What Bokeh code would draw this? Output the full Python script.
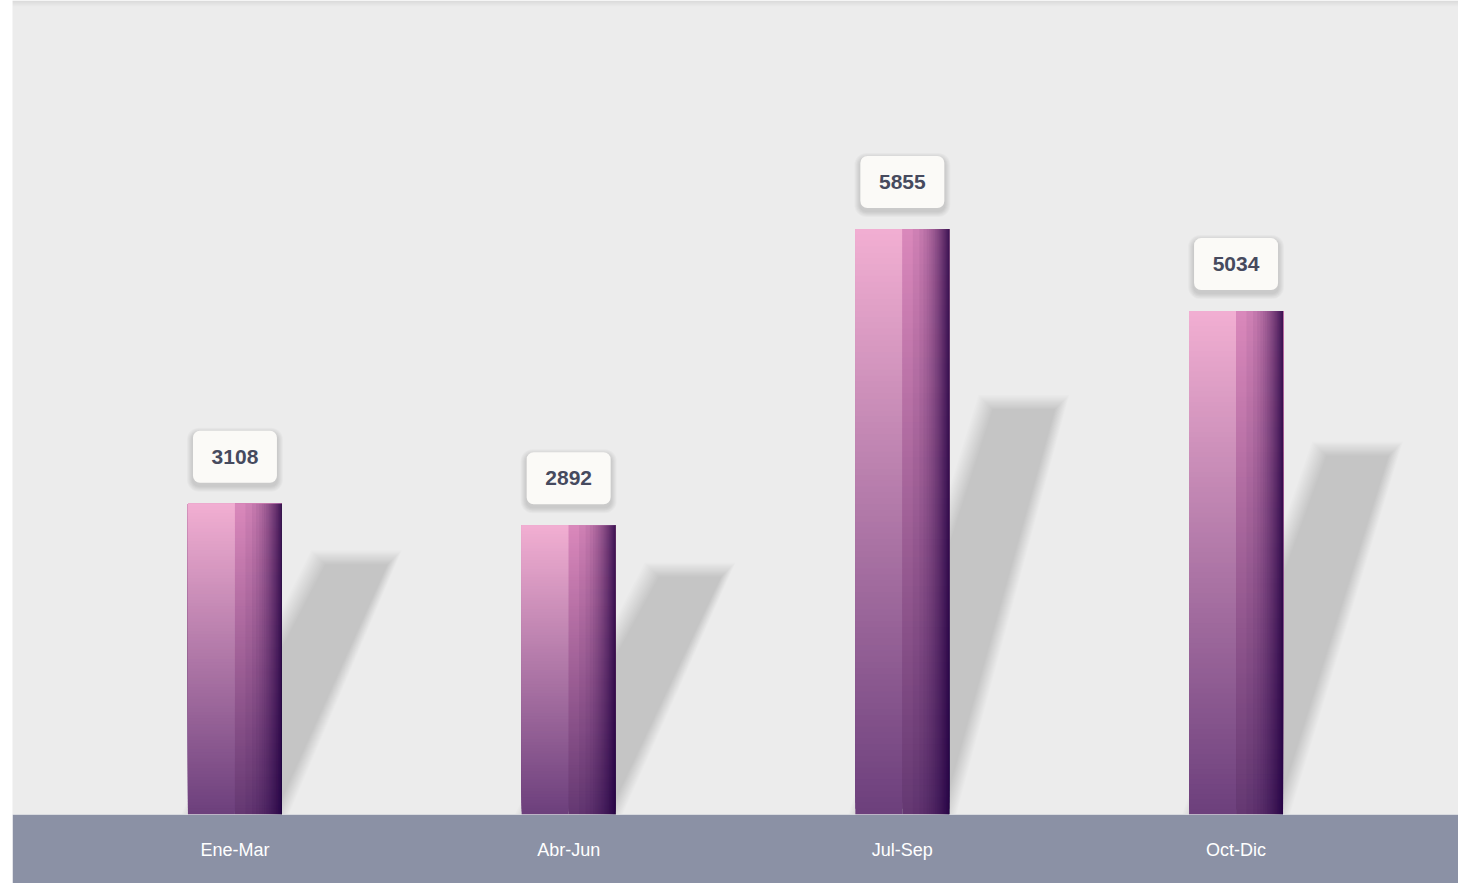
import numpy as np
from bokeh.plotting import figure
from bokeh.models import FactorRange, Range1d, BoxAnnotation, ColumnDataSource
from bokeh.embed import file_html
from bokeh.resources import INLINE
from bokeh.core.properties import value

# ---- data ----
categories = ["Ene-Mar", "Abr-Jun", "Jul-Sep", "Oct-Dic"]
values = [3108, 2892, 5855, 5034]

# ---- layout constants ----
W, H = 1446, 883
BAND = 69
FRAME_H = H - BAND
PAD = 0.3332                          # total padding (split both sides)
Y_MAX = 8140
UX = (len(categories) + PAD) / W      # data units per pixel (x)
UY = Y_MAX / FRAME_H                  # data units per pixel (y)

p = figure(width=W, height=H,
           x_range=FactorRange(factors=categories, range_padding=PAD / 2, range_padding_units="absolute"),
           y_range=Range1d(0, Y_MAX), y_axis_location=None,
           output_backend="svg", toolbar_location=None,
           min_border_left=0, min_border_right=0, min_border_top=0, min_border_bottom=BAND,
           background_fill_color="#ececec", border_fill_color="#8b91a5",
           outline_line_color=None)
p.margin = (0, 0, 0, 12)
p.grid.grid_line_color = None

ax = p.xaxis[0]
ax.axis_line_color = None
ax.major_tick_line_color = None
ax.minor_tick_line_color = None
ax.major_label_text_color = "#ffffff"
ax.major_label_text_font = "Liberation Sans"
ax.major_label_text_font_size = "18px"
ax.major_label_standoff = 19

# subtle top shadow of the panel
for k in range(1, 7):
    p.quad(left=-1, right=6, bottom=Y_MAX - k * UY, top=Y_MAX,
           fill_color="black", fill_alpha=0.012, line_color=None)

# ---- cast shadows (blurred trapezoids) ----
HW = 47 * UX
sh_xs, sh_ys = [], []
for i, v in enumerate(values):
    xc = i + 0.5
    xl, xr = xc - HW, xc + HW
    top = 0.565 * v + 816
    tl, tr = xl + 130 * UX, xr + 113 * UX
    for d in np.linspace(7, -7, 13):
        sh_xs.append([xl - d * UX, tl - d * UX, tr + d * UX, xr + d * UX])
        sh_ys.append([0, top + d * UY, top + d * UY, 0])
p.patches(sh_xs, sh_ys, fill_color="black", fill_alpha=0.0125, line_color=None)

# ---- gradient bars (nested opaque layers, bottom to top) ----
LEFT_TOP, LEFT_BOT = (242, 175, 210), (108, 63, 124)
RIGHT_TOP, RIGHT_BOT = (218, 136, 187), (100, 56, 114)
DARK = "#28083c"


def mix(a, b, t):
    return "#%02x%02x%02x" % tuple(int(round(a[k] + (b[k] - a[k]) * t)) for k in range(3))


N = 100
q = dict(left=[], right=[], bottom=[], top=[], color=[])
for i, v in enumerate(values):
    xc = i + 0.5
    for j in range(N):
        b = v * j / N
        f = (j + 0.5) / N
        for (l, r, ct, cb) in ((xc - HW, xc, LEFT_TOP, LEFT_BOT), (xc, xc + HW, RIGHT_TOP, RIGHT_BOT)):
            q["left"].append(l)
            q["right"].append(r)
            q["bottom"].append(b)
            q["top"].append(v)
            q["color"].append(mix(cb, ct, f))
p.quad(left="left", right="right", bottom="bottom", top="top", fill_color="color",
       line_color=None, source=ColumnDataSource(q))

# horizontal darkening on right half (nested layers)
M = 28
AMAX = 0.82
EXP = 2.2
a = 1 - (1 - AMAX) ** (1 / M)
o = dict(left=[], right=[], bottom=[], top=[])
for i, v in enumerate(values):
    xc = i + 0.5
    for j in range(M):
        tj = ((1 - (1 - a) ** (j + 0.5)) / AMAX) ** (1 / EXP)
        o["left"].append(xc + tj * HW)
        o["right"].append(xc + HW)
        o["bottom"].append(0)
        o["top"].append(v)
p.quad(left="left", right="right", bottom="bottom", top="top", fill_color=DARK,
       fill_alpha=a, line_color=None, source=ColumnDataSource(o))

# ---- value label boxes ----
BOX_HW, BOX_HH, BOX_OFF = 42, 26, 47
for i, v in enumerate(values):
    xc = i + 0.5
    cy = v + BOX_OFF * UY
    for k in (6, 5, 4, 3, 2, 1):
        p.add_layout(BoxAnnotation(left=xc - (BOX_HW + k) * UX, right=xc + (BOX_HW + k) * UX,
                                   bottom=cy - (BOX_HH + k + 3) * UY, top=cy + (BOX_HH + k - 3) * UY,
                                   fill_color="black", fill_alpha=0.025, line_color=None,
                                   border_radius=6 + k))
    p.add_layout(BoxAnnotation(left=xc - BOX_HW * UX, right=xc + BOX_HW * UX,
                               bottom=cy - BOX_HH * UY, top=cy + BOX_HH * UY,
                               fill_color="#fbfaf7", fill_alpha=1.0, line_color=None,
                               border_radius=7))

lab = ColumnDataSource(dict(x=[i + 0.5 for i in range(len(values))],
                            y=[v + BOX_OFF * UY for v in values],
                            t=[str(v) for v in values]))
r = p.text(x="x", y="y", text="t", source=lab, text_align="center", text_baseline="middle",
           text_font=value("Liberation Sans"), text_font_style="bold", text_font_size="21px",
           text_color="#464a5e")
r.level = "overlay"

open("out.html", "w").write(file_html(p, INLINE))
